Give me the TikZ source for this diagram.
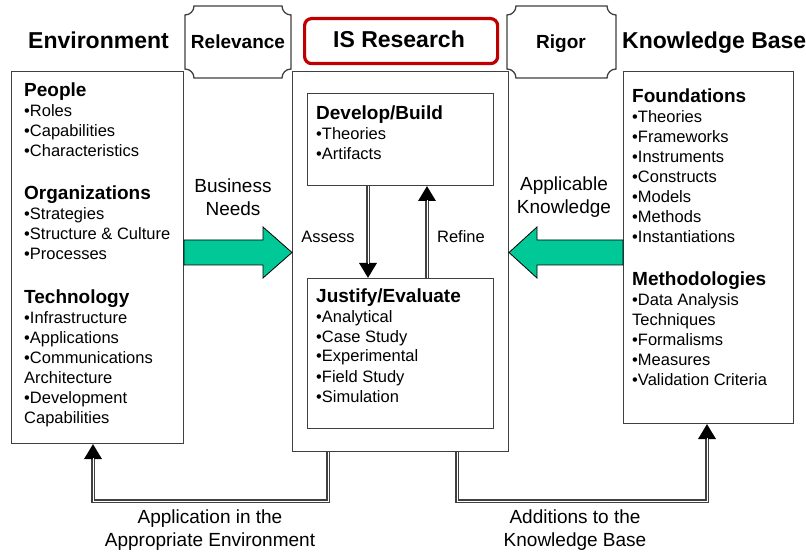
\documentclass[tikz,border=0pt]{standalone}
\usepackage{fontspec}
\setmainfont{Liberation Sans}
\usetikzlibrary{arrows.meta,calc}
\definecolor{isred}{RGB}{192,0,0}
\definecolor{arrowgreen}{RGB}{0,200,150}
\definecolor{edgegray}{RGB}{64,64,64}
\newcommand{\myplaque}[4]{%
  \draw[plaque] (#1+9,#2) -- (#3-9,#2)
    .. controls (#3-9,#2+5) and (#3-5,#2+9) .. (#3,#2+9)
    -- (#3,#4-9)
    .. controls (#3-5,#4-9) and (#3-9,#4-5) .. (#3-9,#4)
    -- (#1+9,#4)
    .. controls (#1+9,#4-5) and (#1+5,#4-9) .. (#1,#4-9)
    -- (#1,#2+9)
    .. controls (#1+5,#2+9) and (#1+9,#2+5) .. (#1+9,#2) -- cycle;}
\begin{document}
\begin{tikzpicture}[x=1pt,y=-1pt,
  box/.style={draw=edgegray, line width=1pt, fill=white, anchor=north west, inner sep=0pt},
  title/.style={font=\fontsize{23}{26}\selectfont\bfseries, inner sep=0pt, anchor=base west},
  sect/.style={font=\fontsize{16.5}{20}\selectfont, align=left, anchor=base west, inner sep=0pt},
  lbl/.style={font=\fontsize{19}{23}\selectfont, align=center, inner sep=0pt},
  small/.style={font=\fontsize{16.5}{20}\selectfont, inner sep=0pt},
  conn/.style={draw=edgegray, line width=3.2pt,
    -{Triangle[width=17pt,length=15pt,color=black,fill=black]},
    postaction={draw=white, line width=1pt, -, shorten >=14pt}},
  bigarrow/.style={draw=black, line width=0.8pt, fill=arrowgreen},
  plaque/.style={draw=edgegray, line width=1.3pt, fill=white},
  plaquetext/.style={font=\fontsize{19}{22}\selectfont\bfseries, inner sep=0pt, anchor=base}]
\useasboundingbox (0,0) rectangle (806,553);
\fill[white] (0,0) rectangle (806,553);

% titles
\node[title] (envtitle) at (28,49) {Environment};
\node[title] (kbtitle) at (622,49) {Knowledge Base};
\node[draw=isred, line width=3.2pt, rounded corners=7pt, minimum width=193pt, minimum height=45pt,
  anchor=north west, inner sep=0pt] (isr) at (303,17) {};
\node[font=\fontsize{23}{26}\selectfont\bfseries, inner sep=0pt, anchor=base] (isrtext) at (399,48) {IS Research};

\myplaque{185}{6}{291}{78}
\node[plaquetext] (rel) at (238,49) {Relevance};
\myplaque{507}{6}{616}{78}
\node[plaquetext] (rig) at (561,49) {Rigor};

% main boxes
\node[box, minimum width=172pt, minimum height=372pt] (env) at (11,71) {};
\node[box, minimum width=216pt, minimum height=380pt] (mid) at (292,71) {};
\node[box, minimum width=170pt, minimum height=352pt] (kb) at (623,71) {};
\node[box, minimum width=186pt, minimum height=92pt] (dev) at (307,93) {};
\node[box, minimum width=186pt, minimum height=150pt] (just) at (307,278) {};

% environment text (anchor = baseline of last line)
\node[sect] (people) at (24,157) {{\fontsize{19}{20}\selectfont\bfseries People}\\•Roles\\•Capabilities\\•Characteristics};
\node[sect] (orgs) at (24,260) {{\fontsize{19}{20}\selectfont\bfseries Organizations}\\•Strategies\\•Structure \& Culture\\•Processes};
\node[sect] (tech) at (24,423) {{\fontsize{19}{20}\selectfont\bfseries Technology}\\•Infrastructure\\•Applications\\•Communications\\Architecture\\•Development\\Capabilities};

% knowledge base text
\node[sect] (found) at (632,243) {{\fontsize{19}{20}\selectfont\bfseries Foundations}\\•Theories\\•Frameworks\\•Instruments\\•Constructs\\•Models\\•Methods\\•Instantiations};
\node[sect] (meth) at (632,385) {{\fontsize{19}{20}\selectfont\bfseries Methodologies}\\•Data Analysis\\Techniques\\•Formalisms\\•Measures\\•Validation Criteria};

% middle text
\node[sect] (devtext) at (316,160) {{\fontsize{19}{20}\selectfont\bfseries Develop/Build}\\•Theories\\•Artifacts};
\node[sect] (justtext) at (316,402) {{\fontsize{19}{20}\selectfont\bfseries Justify/Evaluate}\\•Analytical\\•Case Study\\•Experimental\\•Field Study\\•Simulation};

% assess / refine
\draw[conn] ([xshift=61pt]dev.south west) -- ([xshift=61pt]just.north west);
\draw[conn] ([xshift=120pt]just.north west) -- ([xshift=120pt]dev.south west);
\node[small] (assess) at (328,237) {Assess};
\node[small] (refine) at (461,237) {Refine};

% big green arrows
\draw[bigarrow] (env.east |- 0,240) -- (263,240) -- (263,227) -- (mid.west |- 0,252.5)
  -- (263,278) -- (263,265) -- (env.east |- 0,265) -- cycle;
\draw[bigarrow] (kb.west |- 0,240) -- (537,240) -- (537,227) -- (mid.east |- 0,252.5)
  -- (537,278) -- (537,265) -- (kb.west |- 0,265) -- cycle;
\node[lbl] (bneeds) at (233,197.5) {Business\\Needs};
\node[lbl] (aknow) at (564,197.5) {Applicable\\Knowledge};

% bottom connectors
\draw[conn] ([xshift=36pt]mid.south west) -- ++(0,49) -| ([xshift=82pt]env.south west);
\draw[conn] ([xshift=165pt]mid.south west) -- ++(0,49) -| ([xshift=84pt]kb.south west);
\node[lbl] (appl) at (210,530) {Application in the\\Appropriate Environment};
\node[lbl] (addi) at (575,530) {Additions to the\\Knowledge Base};
\end{tikzpicture}
\end{document}
